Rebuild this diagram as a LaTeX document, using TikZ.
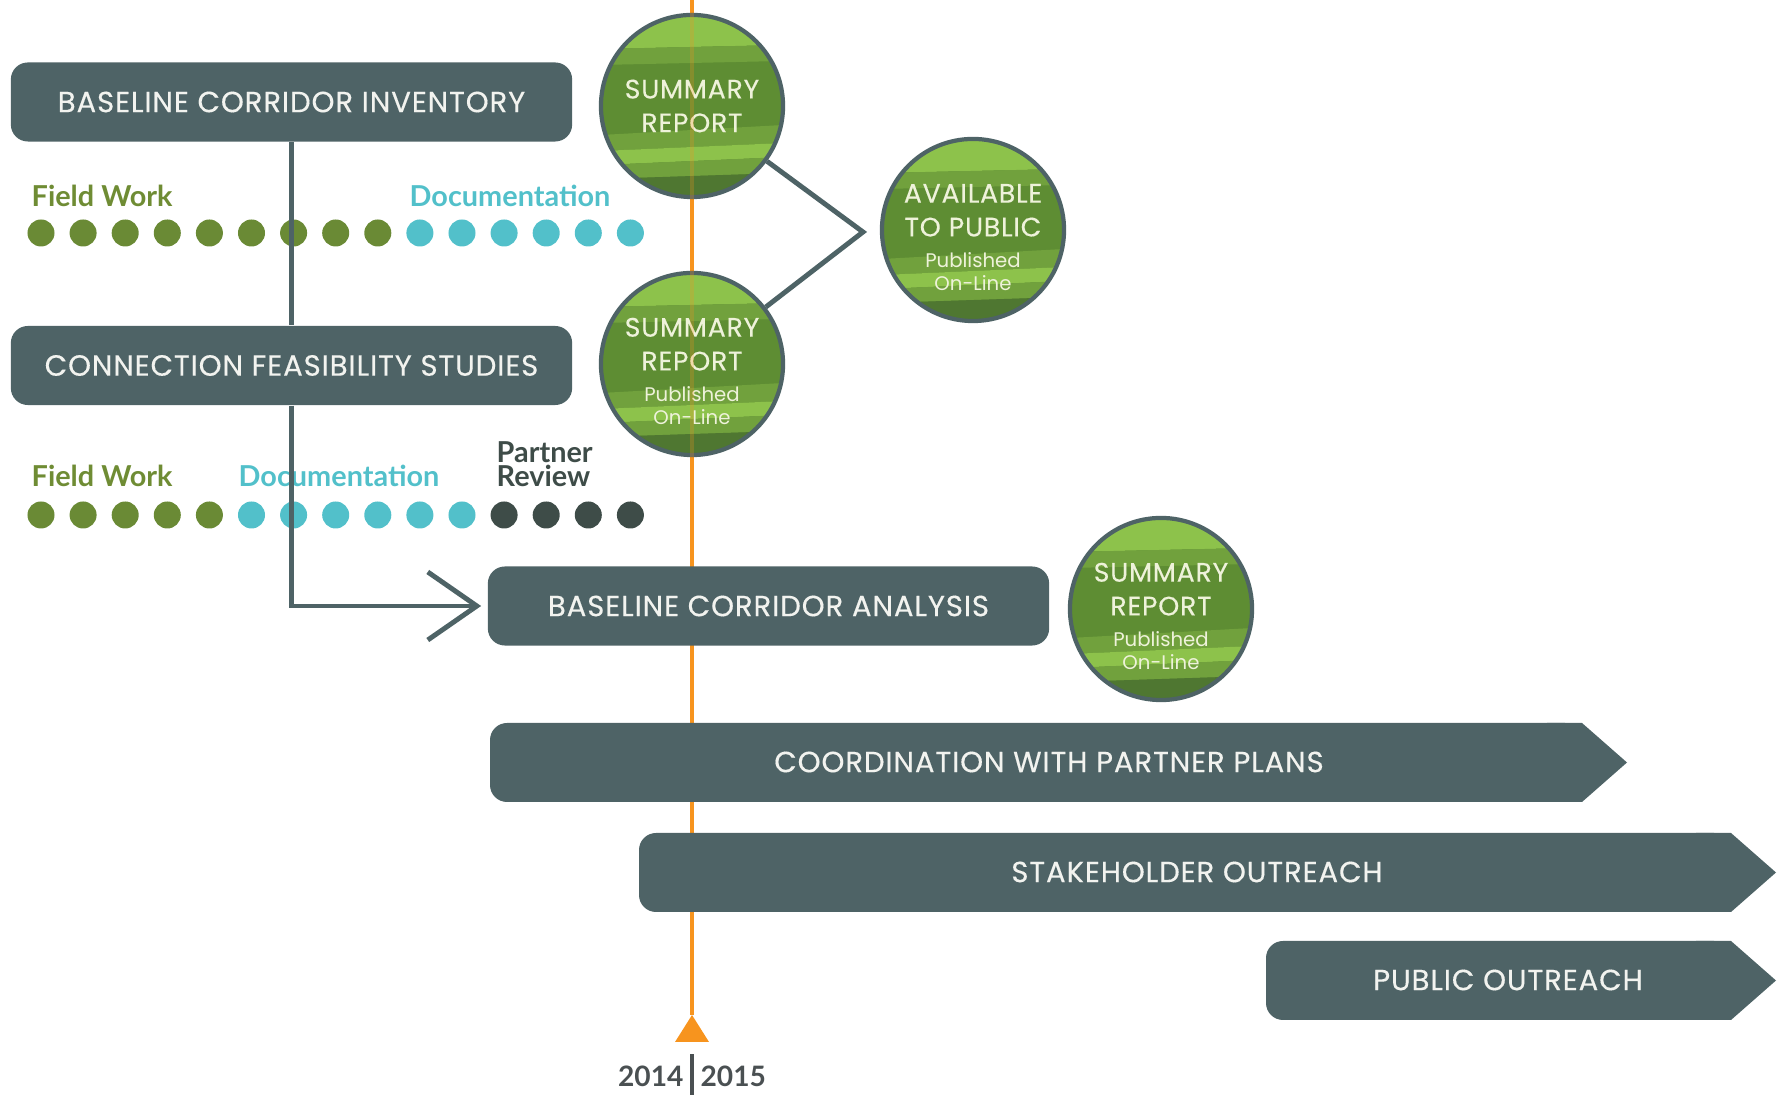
\documentclass[tikz,border=0pt]{standalone}
\usepackage{fontspec}
\setmainfont{Lato}
\newfontfamily\capsfont[LetterSpace=3, FakeBold=0.3]{Poppins}
\newfontfamily\plainfont{Poppins}
\newcommand{\pubfont}{\plainfont\fontsize{5.6}{7}\selectfont}
\newcommand{\leafband}[5]{%
  \fill[#1] ([yshift=-#2cm]path picture bounding box.north west)
    -- ([yshift=-#3cm]path picture bounding box.north east)
    -- ([yshift=-#4cm]path picture bounding box.north east)
    -- ([yshift=-#5cm]path picture bounding box.north west) -- cycle;}
\usetikzlibrary{arrows.meta}

\definecolor{slate}{HTML}{4E6366}
\definecolor{boxtext}{HTML}{F2F3EF}
\definecolor{cream}{HTML}{EEF2DA}
\definecolor{timeline}{HTML}{F7941E}
\definecolor{olive}{HTML}{6F8C34}
\definecolor{fieldgreen}{HTML}{6A8A35}
\definecolor{docteal}{HTML}{52C0CA}
\definecolor{reviewgray}{HTML}{3E4C48}
\definecolor{yeargray}{HTML}{4A5052}
\definecolor{leafmid}{HTML}{5E8D33}
\definecolor{leaflight}{HTML}{8DC24B}
\definecolor{leafsoft}{HTML}{71A13D}
\definecolor{leafdark}{HTML}{4F7731}

\begin{document}
\begin{tikzpicture}[x=0.01cm, y=-0.01cm,
  phasebox/.style={fill=slate, rounded corners=0.17cm, text=boxtext,
    font=\capsfont\fontsize{8.3}{9}\selectfont, minimum width=5.61cm,
    minimum height=0.79cm, inner sep=0pt},
  bartext/.style={text=boxtext, font=\capsfont\fontsize{8.3}{9}\selectfont},
  report/.style={circle, draw=slate, line width=1.2pt, minimum size=1.82cm,
    inner sep=-8pt, text=cream, align=center,
    font=\capsfont\fontsize{7.6}{9.6}\selectfont,
    path picture={
      \fill[leafmid] (path picture bounding box.south west)
        rectangle (path picture bounding box.north east);
      \leafband{leaflight}{0}{0}{0.30}{0.34}
      \leafband{leafsoft}{0.34}{0.30}{0.46}{0.50}
      \leafband{leafsoft}{1.20}{1.10}{1.28}{1.36}
      \leafband{leaflight}{1.36}{1.28}{1.42}{1.50}
      \leafband{leafsoft}{1.50}{1.42}{1.58}{1.64}
      \leafband{leafdark}{1.64}{1.58}{1.82}{1.82}}},
  dot/.style={circle, inner sep=0pt, minimum size=0.27cm},
  phase/.style={font=\bfseries\fontsize{8.2}{7.1}\selectfont, anchor=base west,
    inner sep=0pt, align=left},
  link/.style={draw=slate, line width=1.4pt},
  year/.style={text=yeargray, font=\bfseries\fontsize{8}{9}\selectfont}]

\useasboundingbox (0,0) rectangle (1787,1095);

% timeline
\coordinate (tick) at (692,1015);
\draw[timeline, line width=1.2pt] (692,0) -- (tick);
\fill[timeline] (tick) -- ++(-17,27) -- ++(34,0) -- cycle;
\node[year] (years) at (692,1076)
  {2014\kern2pt\vrule width 0.9pt height 1.15em depth 0.4em\kern2pt 2015};

% phase bars
\foreach \xa/\xb/\ya/\yb in {490/1627/723/802, 639/1776/833/912, 1266/1776/941/1020} {
  \fill[slate, rounded corners=0.17cm] (\xa,\ya) rectangle ({\xb-45},\yb);
  \fill[slate] ({\xb-80},\ya) -- ({\xb-45},\ya) -- ({\xb},{(\ya+\yb)/2})
    -- ({\xb-45},\yb) -- ({\xb-80},\yb) -- cycle;
}
\node[bartext] (coord) at (1049,762) {COORDINATION WITH PARTNER PLANS};
\node[bartext] (stake) at (1197,872) {STAKEHOLDER OUTREACH};
\node[bartext] (public) at (1508,980) {PUBLIC OUTREACH};

% boxes
\node[phasebox] (inventory) at (291.5,102) {BASELINE CORRIDOR INVENTORY};
\node[phasebox] (feasibility) at (291.5,365.5) {CONNECTION FEASIBILITY STUDIES};
\node[phasebox] (analysis) at (768.5,606) {BASELINE CORRIDOR ANALYSIS};

% dots
\foreach \i in {0,...,14} {
  \ifnum\i<9 \def\dotcol{fieldgreen}\else\def\dotcol{docteal}\fi
  \node[dot, fill=\dotcol] (top\i) at ({41+42.1*\i},233) {};
}
\foreach \i in {0,...,14} {
  \ifnum\i<5 \def\dotcol{fieldgreen}\else
    \ifnum\i<11 \def\dotcol{docteal}\else\def\dotcol{reviewgray}\fi\fi
  \node[dot, fill=\dotcol] (low\i) at ({41+42.1*\i},515) {};
}
\node[phase, text=olive] (field1) at (31,207) {Field Work};
\node[phase, text=docteal] (doc1) at (409,207) {Documentation};
\node[phase, text=olive] (field2) at (31,487) {Field Work};
\node[phase, text=docteal] (doc2) at (238,487) {Documentation};
\node[phase, text=reviewgray] (review) at (496,487) {Partner\\Review};

% connectors
\draw[link] (inventory.south) -- (feasibility.north);
\draw[link, -{Straight Barb[length=0.49cm, width=0.68cm]}, shorten >=0.06cm]
  (feasibility.south) |- (analysis.west);

% reports
\node[report] (sum1) at (692,106) {SUMMARY\\REPORT};
\node[report] (sum2) at (692,364) {\rule{0pt}{9.5pt}SUMMARY\\REPORT\\[-0.8pt]
  {\pubfont Published}\\[-3pt]{\pubfont On-Line}};
\node[report] (avail) at (973,230) {\rule{0pt}{9.5pt}AVAILABLE\\TO PUBLIC\\[-0.8pt]
  {\pubfont Published}\\[-3pt]{\pubfont On-Line}};
\node[report] (sum3) at (1161,609) {\rule{0pt}{9.5pt}SUMMARY\\REPORT\\[-0.8pt]
  {\pubfont Published}\\[-3pt]{\pubfont On-Line}};
\draw[timeline, line width=1.2pt, opacity=0.25] (sum1.north) -- (sum1.south);
\draw[timeline, line width=1.2pt, opacity=0.25] (sum2.north) -- (sum2.south);

\coordinate (fork) at (863,232);
\draw[link] (sum1) -- (fork) -- (sum2);
\end{tikzpicture}
\end{document}
